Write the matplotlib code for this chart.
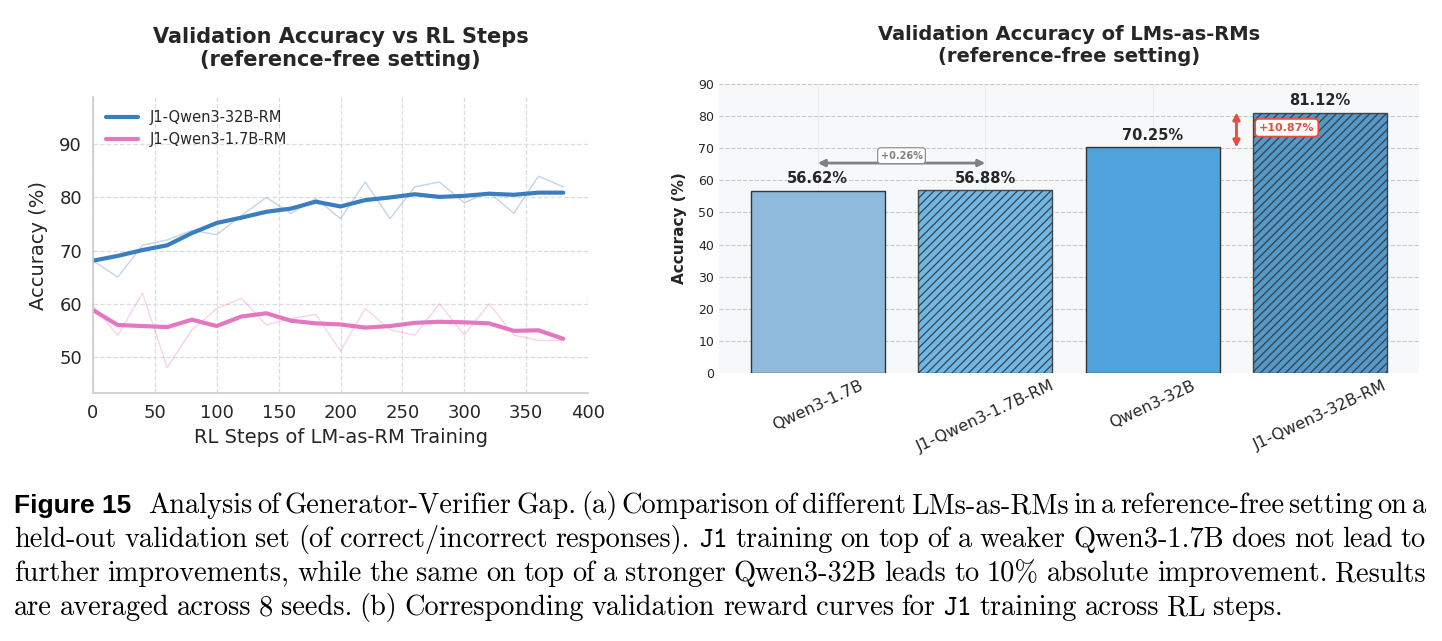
import matplotlib
matplotlib.use('Agg')
import matplotlib.pyplot as plt

plt.rcParams['font.family'] = ['DejaVu Sans']
plt.rcParams['hatch.color'] = '#333333'
plt.rcParams['hatch.linewidth'] = 0.9

# ---------------- data ----------------
steps = [0, 20, 40, 60, 80, 100, 120, 140, 160, 180, 200, 220, 240, 260, 280, 300, 320, 340, 360, 380]
acc_32b_raw = [68.1, 65.0, 71.0, 72.0, 73.8, 73.0, 76.6, 80.0, 77.0, 79.8, 76.0, 82.9, 76.0, 82.0, 82.9, 79.0, 81.0, 77.0, 84.0, 82.0]
acc_32b_smooth = [68.1, 69.0, 70.1, 71.0, 73.3, 75.2, 76.2, 77.3, 77.9, 79.2, 78.3, 79.5, 80.0, 80.6, 80.1, 80.3, 80.7, 80.5, 80.9, 80.9]
acc_17b_raw = [59.7, 54.0, 62.0, 48.0, 55.1, 59.1, 61.0, 56.0, 57.2, 58.0, 51.1, 59.1, 55.1, 54.1, 60.0, 54.1, 60.0, 54.1, 53.1, 53.1]
acc_17b_smooth = [58.8, 56.0, 55.8, 55.6, 57.0, 55.8, 57.6, 58.2, 56.8, 56.3, 56.1, 55.5, 55.8, 56.4, 56.6, 56.5, 56.3, 54.9, 55.0, 53.4]
series_labels = ['J1-Qwen3-32B-RM', 'J1-Qwen3-1.7B-RM']

models = ['Qwen3-1.7B', 'J1-Qwen3-1.7B-RM', 'Qwen3-32B', 'J1-Qwen3-32B-RM']
model_acc = [56.62, 56.88, 70.25, 81.12]

caption_lines = [
    "Analysis of Generator-Verifier Gap. (a) Comparison of different LMs-as-RMs in a reference-free setting on a",
    "held-out validation set (of correct/incorrect responses). J1 training on top of a weaker Qwen3-1.7B does not lead to",
    "further improvements, while the same on top of a stronger Qwen3-32B leads to 10% absolute improvement. Results",
    "are averaged across 8 seeds. (b) Corresponding validation reward curves for J1 training across RL steps.",
]

W, H = 1442, 641
fig = plt.figure(figsize=(W / 100, H / 100), dpi=100)
fig.patch.set_facecolor('white')

BLUE = '#3a7ebf'
PINK = '#e377c2'
TXT = '#262626'

# ---------------- left: line chart ----------------
axL = fig.add_axes([93 / W, 1 - 393 / H, 495 / W, (393 - 97) / H])
axL.plot(steps, acc_32b_raw, color=BLUE, lw=1.0, alpha=0.32)
axL.plot(steps, acc_17b_raw, color=PINK, lw=1.0, alpha=0.32)
axL.plot(steps, acc_32b_smooth, color=BLUE, lw=3, label=series_labels[0], solid_capstyle='round')
axL.plot(steps, acc_17b_smooth, color=PINK, lw=3, label=series_labels[1], solid_capstyle='round')
axL.set_xlim(0, 400)
axL.set_ylim(43.2, 98.9)
axL.set_xticks(range(0, 401, 50))
axL.set_yticks([50, 60, 70, 80, 90])
axL.grid(True, ls='--', color='#dddddd', lw=0.9)
axL.set_axisbelow(True)
for s in ['top', 'right']:
    axL.spines[s].set_visible(False)
for s in ['left', 'bottom']:
    axL.spines[s].set_color('#cccccc')
    axL.spines[s].set_linewidth(1.2)
axL.tick_params(length=0, labelsize=13, colors=TXT, pad=8)
axL.set_xlabel('RL Steps of LM-as-RM Training', fontsize=14, color=TXT, labelpad=4)
axL.set_ylabel('Accuracy (%)', fontsize=14, color=TXT, labelpad=8)
axL.set_title('Validation Accuracy vs RL Steps\n(reference-free setting)', fontsize=15,
              fontweight='bold', color=TXT, pad=22, linespacing=1.2)
leg = axL.legend(loc='upper left', frameon=False, fontsize=10.5, handlelength=2.2,
                 borderaxespad=0.5, labelspacing=0.45)
for t in leg.get_texts():
    t.set_color(TXT)

# ---------------- right: bar chart ----------------
axR = fig.add_axes([719 / W, 1 - 373 / H, 700 / W, (373 - 84) / H])
axR.set_facecolor('#f7f8fa')
bar_colors = ['#8fbadb', '#5caee3', '#4fa3dc', '#3f8bc4']
hatches = ['', '////', '', '////']
alphas = [1.0, 0.88, 1.0, 0.88]
xpos = list(range(len(models)))
bars = axR.bar(xpos, model_acc, width=0.8, color=bar_colors, edgecolor='#333333', linewidth=1.0)
for b, h, a in zip(bars, hatches, alphas):
    b.set_hatch(h)
    b.set_alpha(a)
axR.set_ylim(0, 90)
axR.set_yticks(range(0, 91, 10))
axR.set_xticks(xpos)
axR.set_xticklabels(models, rotation=25, fontsize=11.5, color=TXT)
axR.tick_params(axis='y', labelsize=9, colors=TXT)
axR.tick_params(length=0)
axR.grid(True, axis='y', ls='--', color='#c8c8c8', lw=0.8)
axR.grid(True, axis='x', ls='-', color='#ececf0', lw=0.8)
axR.set_axisbelow(True)
for s in axR.spines.values():
    s.set_visible(False)
axR.set_ylabel('Accuracy (%)', fontsize=11, fontweight='bold', color=TXT, labelpad=8)
axR.set_title('Validation Accuracy of LMs-as-RMs\n(reference-free setting)', fontsize=14,
              fontweight='bold', color=TXT, pad=16, linespacing=1.2)
for x, v in zip(xpos, model_acc):
    axR.text(x, v + 1.5, f'{v:.2f}%', ha='center', va='bottom', fontsize=10.5,
             fontweight='bold', color=TXT)

# gap annotations
gap_small = model_acc[1] - model_acc[0]
gap_big = model_acc[3] - model_acc[2]
y_arrow = max(model_acc[0], model_acc[1]) + 8.5
axR.annotate('', xy=(xpos[0], y_arrow), xytext=(xpos[1], y_arrow),
             arrowprops=dict(arrowstyle='<|-|>', color='#808080', lw=2, mutation_scale=10,
                             shrinkA=0, shrinkB=0))
axR.text((xpos[0] + xpos[1]) / 2, y_arrow + 2.3, f'+{gap_small:.2f}%', ha='center', va='center',
         fontsize=7, fontweight='bold', color='#808080',
         bbox=dict(boxstyle='round,pad=0.3', fc='white', ec='#909090', lw=0.9))
axR.annotate('', xy=(2.5, model_acc[3]), xytext=(2.5, model_acc[2]),
             arrowprops=dict(arrowstyle='<|-|>', color='#e74c3c', lw=2, mutation_scale=10,
                             shrinkA=0, shrinkB=0))
axR.text(2.8, (model_acc[2] + model_acc[3]) / 2 + 0.7, f'+{gap_big:.2f}%', ha='center', va='center',
         fontsize=8, fontweight='bold', color='#e74c3c',
         bbox=dict(boxstyle='round,pad=0.35', fc='white', ec='#e74c3c', lw=1.3))

# ---------------- caption ----------------
renderer = fig.canvas.get_renderer()
CAP_SIZE = 20.4
serif = dict(family='cmr10', size=CAP_SIZE, color='black')
mono = dict(family='cmtt10', size=CAP_SIZE, color='black')
bold_sans = dict(family='Liberation Sans', weight='bold', size=CAP_SIZE * 0.93, color='black')

x_left, x_right = 14, 1426
baselines = [513, 547, 581, 615]


def place_line(words, y, justify, lead=None):
    objs = []
    if lead is not None:
        objs.append((fig.text(0, 1 - y / H, lead, va='baseline', ha='left', **bold_sans), 12))
    for w in words:
        props = mono if w == 'J1' else serif
        objs.append((fig.text(0, 1 - y / H, w, va='baseline', ha='left', **props), 0))
    widths = [o.get_window_extent(renderer).width for o, _ in objs]
    extra = sum(e for _, e in objs)
    n_gaps = len(objs) - 1
    if justify:
        gap = (x_right - x_left - sum(widths) - extra) / n_gaps
    else:
        gap = 7.6
    x = x_left
    for (o, e), wdt in zip(objs, widths):
        o.set_x(x / W)
        x += wdt + gap + e


for i, line in enumerate(caption_lines):
    words = line.split(' ')
    place_line(words, baselines[i], justify=(i < 3), lead='Figure 15' if i == 0 else None)

fig.savefig('out.png', dpi=100, facecolor='white')
